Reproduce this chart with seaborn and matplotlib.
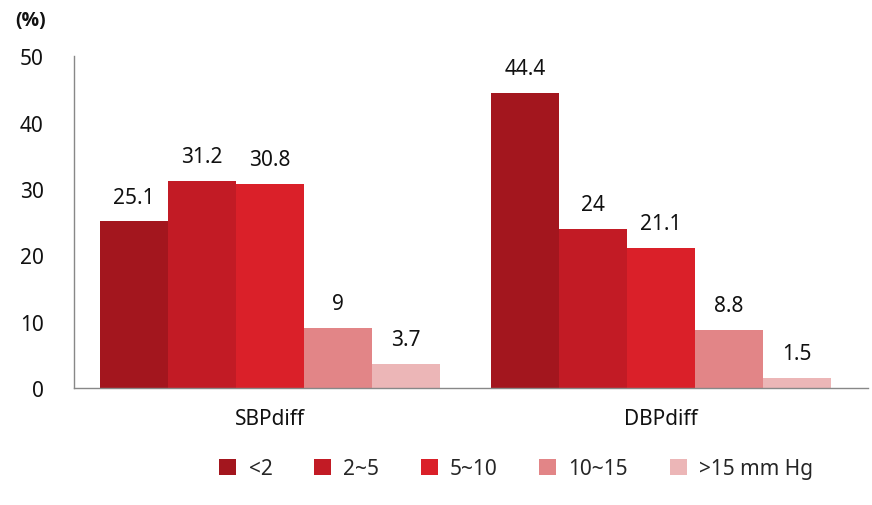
import matplotlib
matplotlib.use("Agg")
import matplotlib.pyplot as plt
import seaborn as sns
import pandas as pd
from matplotlib.patches import Patch

groups = ["SBPdiff", "DBPdiff"]
ranges = ["<2", "2~5", "5~10", "10~15", ">15 mm Hg"]
sbp_values = [25.1, 31.2, 30.8, 9, 3.7]
dbp_values = [44.4, 24, 21.1, 8.8, 1.5]
value_labels_sbp = ["25.1", "31.2", "30.8", "9", "3.7"]
value_labels_dbp = ["44.4", "24", "21.1", "8.8", "1.5"]
colors = ["#A3161E", "#C21B25", "#DA2029", "#E28587", "#ECB6B7"]

rows = []
for g, vals in zip(groups, [sbp_values, dbp_values]):
    for r, v in zip(ranges, vals):
        rows.append({"group": g, "range": r, "value": v})
df = pd.DataFrame(rows)

sns.set_theme(style="white")
plt.rcParams["font.family"] = ["Noto Sans", "DejaVu Sans"]

fig = plt.figure(figsize=(8.72, 5.06), dpi=100)
ax = fig.add_axes([0.085, 0.231, 0.91, 0.656])
sns.barplot(data=df, x="group", y="value", hue="range", order=groups,
            hue_order=ranges, palette=colors, width=0.87, saturation=1,
            ax=ax, legend=False, edgecolor="none")

labels_map = {"SBPdiff": value_labels_sbp, "DBPdiff": value_labels_dbp}
for ci, cont in enumerate(ax.containers):
    for gi, bar in enumerate(cont):
        lbl = labels_map[groups[gi]][ci]
        ax.text(bar.get_x() + bar.get_width() / 2, bar.get_height() + 2.1, lbl,
                ha="center", va="bottom", fontsize=15, color="#111111")

ax.set_ylim(0, 50)
ax.set_yticks([0, 10, 20, 30, 40, 50])
ax.tick_params(axis="y", labelsize=15, colors="#111111", length=0, pad=22)
ax.tick_params(axis="x", labelsize=15, colors="#111111", length=0, pad=14)
ax.set_xlabel("")
ax.set_ylabel("")
for s in ["top", "right"]:
    ax.spines[s].set_visible(False)
for s in ["left", "bottom"]:
    ax.spines[s].set_color("#888888")
    ax.spines[s].set_linewidth(1)
ax.spines["left"].set_bounds(0, 50)
ax.set_xlim(-0.501, 1.529)

fig.text(0.018, 0.958, "(%)", fontsize=14, fontweight="bold", color="#111111",
         va="center", family=["Open Sans", "DejaVu Sans"])

handles = [Patch(facecolor=c, edgecolor="none") for c in colors]
fig.legend(handles, ranges, loc="center", bbox_to_anchor=(0.592, 0.072), ncol=5,
           frameon=False, fontsize=15, handlelength=0.8, handleheight=0.8,
           handletextpad=0.6, columnspacing=2.0)

fig.savefig("out.png", dpi=100)
